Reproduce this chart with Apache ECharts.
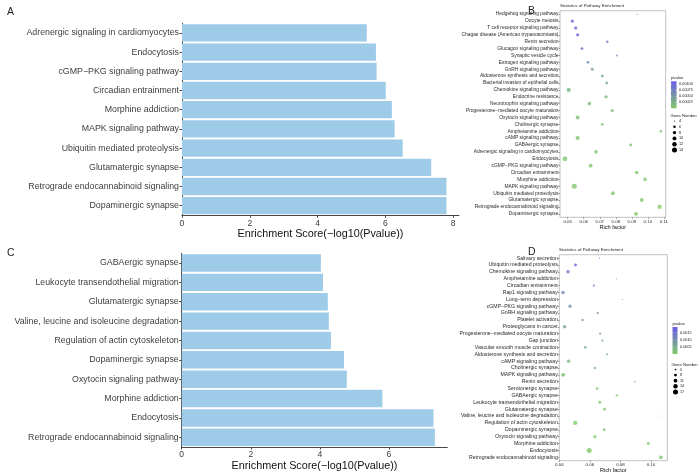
<!DOCTYPE html>
<html><head><meta charset="utf-8">
<script src="https://cdn.jsdelivr.net/npm/echarts@6/dist/echarts.min.js"></script>
<style>html,body{margin:0;padding:0;background:#fff}#c{width:698px;height:476px}</style>
</head><body><div id="c"></div>
<script>
// ---------- Panel A (bar) ----------
const catA = ["Adrenergic signaling in cardiomyocytes","Endocytosis","cGMP\u2212PKG signaling pathway","Circadian entrainment","Morphine addiction","MAPK signaling pathway","Ubiquitin mediated proteolysis","Glutamatergic synapse","Retrograde endocannabinoid signaling","Dopaminergic synapse"];
const valA = [5.45,5.72,5.74,6.01,6.19,6.27,6.51,7.35,7.80,7.80];
const ticksA = [0,2,4,6,8];
// ---------- Panel C (bar) ----------
const catC = ["GABAergic synapse","Leukocyte transendothelial migration","Glutamatergic synapse","Valine, leucine and isoleucine degradation","Regulation of actin cytoskeleton","Dopaminergic synapse","Oxytocin signaling pathway","Morphine addiction","Endocytosis","Retrograde endocannabinoid signaling"];
const valC = [4.03,4.09,4.23,4.26,4.32,4.70,4.78,5.81,7.29,7.33];
const ticksC = [0,2,4,6];
// ---------- Panel B (bubble) ----------
const catB = ["Hedgehog signaling pathway","Oocyte meiosis","T cell receptor signaling pathway","Chagas disease (American trypanosomiasis)","Renin secretion","Glucagon signaling pathway","Synaptic vesicle cycle","Estrogen signaling pathway","GnRH signaling pathway","Aldosterone synthesis and secretion","Bacterial invasion of epithelial cells","Chemokine signaling pathway","Endocrine resistance","Neurotrophin signaling pathway","Progesterone\u2212mediated oocyte maturation","Oxytocin signaling pathway","Cholinergic synapse","Amphetamine addiction","cAMP signaling pathway","GABAergic synapse","Adrenergic signaling in cardiomyocytes","Endocytosis","cGMP\u2212PKG signaling pathway","Circadian entrainment","Morphine addiction","MAPK signaling pathway","Ubiquitin mediated proteolysis","Glutamatergic synapse","Retrograde endocannabinoid signaling","Dopaminergic synapse"];
const richB = [0.0934,0.0529,0.0550,0.0562,0.0747,0.0589,0.0807,0.0626,0.0653,0.0716,0.0743,0.0506,0.0739,0.0635,0.0778,0.0562,0.0716,0.1081,0.0562,0.0893,0.0676,0.0483,0.0643,0.0930,0.0982,0.0541,0.0782,0.0961,0.1073,0.0926];
const genesB = [4,8,8,8,6,7,5,7,7,7,7,11,8,9,8,10,7,6,11,7,9,13,10,9,9,14,10,10,11,10];
const pB = [0.00108,0.00102,0.00098,0.00095,0.00088,0.00085,0.00068,0.00062,0.00050,0.00036,0.00030,0.00020,0.00018,0.00013,0.00011,0.00008,0.00007,0.00006,0.00005,0.00004,0.00003,0.00002,0.00002,0.00001,0.00001,0.000008,0.000006,0.000004,0.000002,0.000001];
const ticksB = [0.05,0.06,0.07,0.08,0.09,0.10,0.11];
const geneLegB = [4,6,8,10,12,14];
const pLegB = [0.00100,0.00075,0.00050,0.00025];
// ---------- Panel D (bubble) ----------
const catD = ["Salivary secretion","Ubiquitin mediated proteolysis","Chemokine signaling pathway","Amphetamine addiction","Circadian entrainment","Rap1 signaling pathway","Long\u2212term depression","cGMP\u2212PKG signaling pathway","GnRH signaling pathway","Platelet activation","Proteoglycans in cancer","Progesterone\u2212mediated oocyte maturation","Gap junction","Vascular smooth muscle contraction","Aldosterone synthesis and secretion","cAMP signaling pathway","Cholinergic synapse","MAPK signaling pathway","Renin secretion","Serotonergic synapse","GABAergic synapse","Leukocyte transendothelial migration","Glutamatergic synapse","Valine, leucine and isoleucine degradation","Regulation of actin cytoskeleton","Dopaminergic synapse","Oxytocin signaling pathway","Morphine addiction","Endocytosis","Retrograde endocannabinoid signaling"];
const richD = [0.0663,0.0506,0.0457,0.0774,0.0626,0.0424,0.0813,0.0470,0.0652,0.0552,0.0435,0.0667,0.0682,0.0570,0.0713,0.0461,0.0633,0.0426,0.0894,0.0648,0.0776,0.0665,0.0696,0.1070,0.0504,0.0694,0.0633,0.0983,0.0596,0.1065];
const genesD = [4,8,10,4,6,10,4,9,6,7,10,6,6,7,6,10,7,12,5,7,6,8,8,4,13,8,9,8,17,11];
const pD = [0.00190,0.00170,0.00140,0.00168,0.00130,0.00122,0.00115,0.00110,0.00090,0.00082,0.00070,0.00060,0.00058,0.00050,0.00040,0.00030,0.00028,0.00020,0.00015,0.00012,0.00010,0.00008,0.00006,0.00005,0.00004,0.00003,0.00002,0.00001,0.000005,0.000002];
const ticksD = [0.04,0.06,0.08,0.10];
const geneLegD = [5,8,11,14,17];
const pLegD = [0.0015,0.0010,0.0005];

const FONT = "Liberation Sans, Arial, Helvetica, sans-serif";
const LOW = '#80c96a', HIGH = '#6a5ce6';
const BAR = '#9ecbe8';
const pRangeB = [0, 0.00112], pRangeD = [0, 0.0019];

function sizeB(n){ const a=1.1,b=5.0; return Math.sqrt(a*a + (n-4)/(14-4)*(b*b-a*a)); }
function sizeD(n){ const a=1.1,b=5.0; return Math.sqrt(a*a + (n-4)/(17-4)*(b*b-a*a)); }

const chart = echarts.init(document.getElementById('c'), null, {renderer:'canvas'});

function barYAxis(i, cats){
  return {gridIndex:i, type:'category', data:cats, inverse:true,
    axisLine:{show:true, lineStyle:{color:'#333', width:0.9}},
    axisTick:{show:true, alignWithLabel:true, length:2.5, lineStyle:{color:'#333', width:0.9}},
    axisLabel:{color:'#3d3d3d', fontSize:8.8, fontFamily:FONT, margin:3, interval:0}};
}
function barXAxis(i, max, ticks, gap){
  return {gridIndex:i, type:'value', min:0, max:max,
    name:'Enrichment Score(\u2212log10(Pvalue))', nameLocation:'middle', nameGap:gap,
    nameTextStyle:{color:'#111', fontSize:10.8, fontFamily:FONT},
    axisLine:{show:true, lineStyle:{color:'#333', width:0.9}},
    axisTick:{show:true, length:2.5, customValues:ticks, lineStyle:{color:'#333', width:0.9}},
    axisLabel:{color:'#3d3d3d', fontSize:8.6, fontFamily:FONT, margin:3.5, customValues:ticks},
    splitLine:{show:false}};
}
function dotYAxis(i, cats, fs){
  return {gridIndex:i, type:'category', data:cats, inverse:true,
    axisLine:{show:false},
    axisTick:{show:true, alignWithLabel:true, interval:0, length:1.5, lineStyle:{color:'#444', width:0.5}},
    axisLabel:{color:'#2a2a2a', fontSize:fs, fontFamily:FONT, margin:1.5, interval:0, hideOverlap:false},
    splitLine:{show:false}};
}
function dotXAxis(i, min, max, ticks, gap){
  return {gridIndex:i, type:'value', min:min, max:max,
    name:'Rich factor', nameLocation:'middle', nameGap:gap,
    nameTextStyle:{color:'#111', fontSize:5.6, fontFamily:FONT},
    axisLine:{show:false},
    axisTick:{show:true, length:1.5, customValues:ticks, lineStyle:{color:'#444', width:0.5}},
    axisLabel:{color:'#2a2a2a', fontSize:4.4, fontFamily:FONT, margin:2, customValues:ticks,
      formatter:v=>v.toFixed(2)},
    splitLine:{show:false}};
}

const dataB = catB.map((c,i)=>[richB[i], c, genesB[i], pB[i]]);
const dataD = catD.map((c,i)=>[richD[i], c, genesD[i], pD[i]]);

function txt(x,y,t,size,align){
  return {type:'text', x:x, y:y, silent:true,
    style:{text:t, font:size+'px '+FONT, fill:'#222', textAlign:align||'left', textVerticalAlign:'middle'}};
}
function colorLegend(x, top, h, w, range, labels, fmt){
  const els = [txt(x, top-3.2, 'pvalue', 4.2)];
  els.push({type:'rect', shape:{x:x, y:top, width:w, height:h}, silent:true,
    style:{fill:new echarts.graphic.LinearGradient(0,0,0,1,[{offset:0,color:HIGH},{offset:1,color:LOW}])}});
  labels.forEach(v=>{
    const y = top + h - (v-range[0])/(range[1]-range[0])*h;
    els.push({type:'line', shape:{x1:x, y1:y, x2:x+1.2, y2:y}, style:{stroke:'#fff', lineWidth:0.4}, silent:true});
    els.push({type:'line', shape:{x1:x+w-1.2, y1:y, x2:x+w, y2:y}, style:{stroke:'#fff', lineWidth:0.4}, silent:true});
    els.push(txt(x+w+2.5, y, fmt(v), 3.8));
  });
  return els;
}
function geneLegend(x, top, vals, sz, step){
  const els = [txt(x-1.5, top, 'Gene Number', 4.2)];
  vals.forEach((n,i)=>{
    const y = top + 5 + i*step;
    const r = sz(n)/2;
    els.push({type:'circle', shape:{cx:x+2.5, cy:y, r:r}, style:{fill:'#000'}, silent:true});
    els.push(txt(x+7, y, String(n), 3.8));
  });
  return els;
}

const graphics = [
  txt(7, 12, 'A', 10.5), txt(7, 253, 'C', 10.5),
  txt(528, 11, 'B', 10.5), txt(528, 252, 'D', 10.5),
  txt(560, 6, 'Statistics of Pathway Enrichment', 4.4),
  txt(559, 250, 'Statistics of Pathway Enrichment', 4.4)
].concat(
  colorLegend(671, 81.3, 27, 5.6, pRangeB, pLegB, v=>v.toFixed(5)),
  geneLegend(672, 116, geneLegB, sizeB, 5.8),
  colorLegend(672.5, 327, 27, 5, pRangeD, pLegD, v=>v.toFixed(4)),
  geneLegend(673, 364.5, geneLegD, sizeD, 5.6)
);

const option = {
  backgroundColor:'#fff',
  animation:false,
  textStyle:{fontFamily:FONT},
  grid:[
    {left:182, top:23.3, right:239, bottom:260.7},
    {left:560, top:10.7, right:32.3, bottom:258.7, show:true, borderColor:'#b3b3b3', borderWidth:0.8, backgroundColor:'#fff'},
    {left:181.7, top:253.3, right:250.7, bottom:29},
    {left:559.3, top:254.7, right:30.7, bottom:15.3, show:true, borderColor:'#b3b3b3', borderWidth:0.8, backgroundColor:'#fff'}
  ],
  xAxis:[
    barXAxis(0, 8.17, ticksA, 10.5),
    dotXAxis(1, 0.0452, 0.1111, ticksB, 5.4),
    barXAxis(2, 7.69, ticksC, 13.6),
    dotXAxis(3, 0.0400, 0.1107, ticksD, 4.6)
  ],
  yAxis:[ barYAxis(0, catA), dotYAxis(1, catB, 4.9), barYAxis(2, catC), dotYAxis(3, catD, 5.2) ],
  visualMap:[
    {type:'continuous', show:false, seriesIndex:1, dimension:3, min:pRangeB[0], max:pRangeB[1], inRange:{color:[LOW, HIGH]}},
    {type:'continuous', show:false, seriesIndex:3, dimension:3, min:pRangeD[0], max:pRangeD[1], inRange:{color:[LOW, HIGH]}}
  ],
  series:[
    {type:'bar', xAxisIndex:0, yAxisIndex:0, data:valA, barCategoryGap:'10%', itemStyle:{color:BAR}},
    {type:'scatter', xAxisIndex:1, yAxisIndex:1, data:dataB, symbolSize:d=>sizeB(d[2])},
    {type:'bar', xAxisIndex:2, yAxisIndex:2, data:valC, barCategoryGap:'10%', itemStyle:{color:BAR}},
    {type:'scatter', xAxisIndex:3, yAxisIndex:3, data:dataD, symbolSize:d=>sizeD(d[2])}
  ],
  graphic:graphics
};
chart.setOption(option);
</script></body></html>
